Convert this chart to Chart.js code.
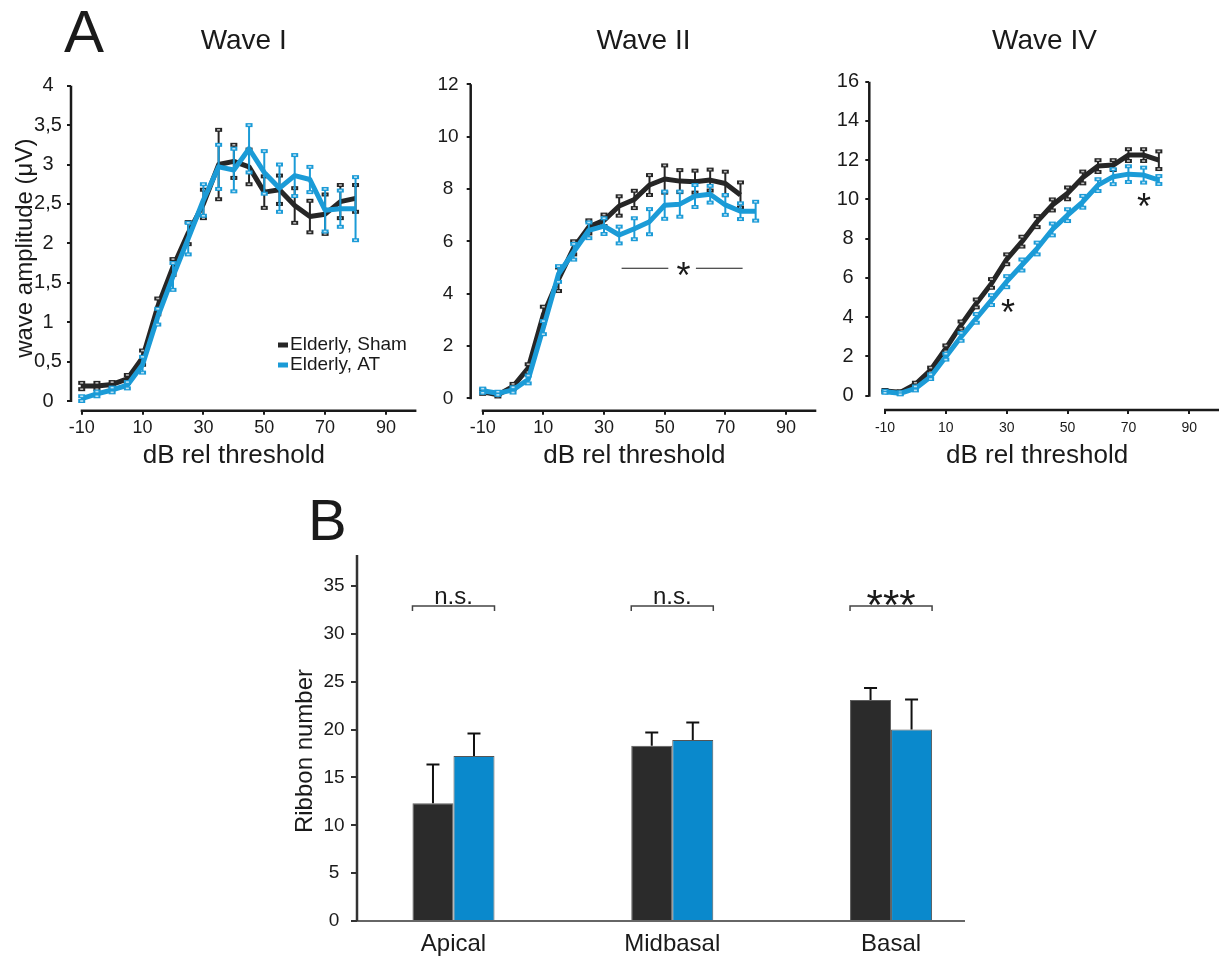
<!DOCTYPE html>
<html><head><meta charset="utf-8">
<script src="https://cdn.jsdelivr.net/npm/chart.js@4.4.1/dist/chart.umd.min.js"></script>
<style>
html,body{margin:0;padding:0;background:#fff;width:1219px;height:966px;overflow:hidden;font-family:'Liberation Sans',Arial,sans-serif;}
canvas{position:absolute;}
.lbl{position:absolute;color:#1a1a1a;line-height:1;}
</style></head><body>
<div class="lbl" style="left:64px;top:2px;font-size:60px;">A</div>
<div class="lbl" style="left:308px;top:491px;font-size:58px;">B</div>
<canvas id="wave1" width="420" height="480" style="left:0;top:0"></canvas>
<canvas id="wave2" width="400" height="480" style="left:420px;top:0"></canvas>
<canvas id="wave4" width="400" height="480" style="left:820px;top:0"></canvas>
<canvas id="ribbons" width="949" height="486" style="left:270px;top:480px"></canvas>
<script>
// ---------------- data ----------------
const dbLevels = [-10,-5,0,5,10,15,20,25,30,35,40,45,50,55,60,65,70,75,80];
const xTickLabels = [-10,10,30,50,70,90];
const seriesNames = ['Elderly, Sham','Elderly, AT'];

const waveITicks = [0,0.5,1,1.5,2,2.5,3,3.5,4];
const shamWaveI    = [0.19,0.19,0.21,0.28,0.55,1.20,1.70,2.13,2.50,3.00,3.04,2.97,2.65,2.68,2.48,2.34,2.37,2.53,2.57];
const shamWaveIErr = [0.04,0.04,0.03,0.05,0.09,0.10,0.10,0.14,0.18,0.44,0.21,0.22,0.20,0.18,0.22,0.20,0.25,0.21,0.17];
const atWaveI      = [0.03,0.09,0.14,0.20,0.46,1.07,1.58,2.06,2.55,2.97,2.93,3.20,2.90,2.70,2.86,2.81,2.42,2.44,2.44];
const atWaveIErr   = [0.03,0.03,0.03,0.04,0.10,0.10,0.17,0.20,0.20,0.28,0.27,0.30,0.27,0.30,0.26,0.16,0.27,0.23,0.40];

const waveIITicks = [0,2,4,6,8,10,12];
const shamWaveII    = [0.25,0.13,0.45,1.15,3.20,4.55,5.75,6.55,6.80,7.35,7.60,8.15,8.38,8.30,8.28,8.34,8.21,7.77,null];
const shamWaveIIErr = [0.08,0.06,0.10,0.15,0.30,0.45,0.25,0.25,0.22,0.37,0.33,0.38,0.52,0.42,0.42,0.40,0.45,0.48,null];
const atWaveII      = [0.29,0.19,0.32,0.72,2.70,4.75,5.60,6.42,6.58,6.24,6.48,6.75,7.38,7.42,7.73,7.80,7.39,7.15,7.15];
const atWaveIIErr   = [0.08,0.06,0.10,0.15,0.25,0.30,0.30,0.30,0.30,0.32,0.40,0.48,0.52,0.48,0.42,0.32,0.38,0.30,0.36];

const waveIVTicks = [0,2,4,6,8,10,12,14,16];
const shamWaveIV    = [0.24,0.17,0.58,1.31,2.41,3.60,4.70,5.72,6.95,7.85,8.87,9.72,10.31,11.12,11.70,11.75,12.26,12.26,12.00];
const shamWaveIVErr = [0.05,0.05,0.08,0.12,0.15,0.18,0.20,0.22,0.25,0.25,0.28,0.28,0.30,0.30,0.30,0.25,0.30,0.30,0.45];
const atWaveIV      = [0.20,0.12,0.37,0.97,1.99,3.00,3.94,4.87,5.81,6.66,7.50,8.47,9.20,9.88,10.73,11.16,11.29,11.24,10.99];
const atWaveIVErr   = [0.05,0.05,0.10,0.12,0.15,0.20,0.22,0.25,0.28,0.28,0.30,0.30,0.30,0.30,0.30,0.38,0.40,0.38,0.20];

const regions = ['Apical','Midbasal','Basal'];
const ribbonTicks = [0,5,10,15,20,25,30,35];
const shamRibbons    = [12.3,18.3,23.1];
const shamRibbonsErr = [4.05,1.40,1.25];
const atRibbons      = [17.25,18.9,20.0];
const atRibbonsErr   = [2.35,1.85,3.15];
const sigLabels = ['n.s.','n.s.','***'];

// ---------------- styling ----------------
const FONT = "'Liberation Sans', Arial, sans-serif";
Chart.defaults.font.family = FONT;
Chart.defaults.color = '#1a1a1a';
const INK = '#1a1a1a';
const SHAM_COL = '#262626', AT_COL = '#1b9bd7';
const SHAM_BAR = '#2b2b2b', AT_BAR = '#0a89cc';
const fmt = v => String(v).replace('.', ',');
const pts = arr => dbLevels.map((d, i) => ({x: d, y: arr[i]}));

function drawErrBars(chart, meta, ds) {
  if (!ds.errors) return;
  const ctx = chart.ctx, y = chart.scales.y;
  ctx.save();
  ctx.strokeStyle = ds.borderColor; ctx.lineWidth = 2;
  meta.data.forEach((pt, i) => {
    const v = ds.data[i].y, e = ds.errors[i];
    if (v == null || e == null) return;
    const yt = y.getPixelForValue(v + e), yb = y.getPixelForValue(v - e);
    ctx.beginPath(); ctx.moveTo(pt.x, yt); ctx.lineTo(pt.x, yb); ctx.stroke();
    [yt, yb].forEach(yy => {
      ctx.fillStyle = ds.borderColor; ctx.fillRect(pt.x - 3.5, yy - 2, 7, 4);
      ctx.fillStyle = 'rgba(255,255,255,0.7)'; ctx.fillRect(pt.x - 1.5, yy - 0.8, 3, 1.6);
    });
  });
  ctx.restore();
}

function drawStar(ctx, x, cy, size, bold) {
  ctx.save();
  ctx.font = (bold ? 'bold ' : '') + size + 'px ' + FONT;
  ctx.fillStyle = INK; ctx.textAlign = 'center'; ctx.textBaseline = 'alphabetic';
  ctx.fillText('*', x, cy + 0.575 * size);
  ctx.restore();
}

function waveChart(id, c) {
  const datasets = [
    {label: seriesNames[0], data: pts(c.sham), errors: c.shamErr, borderColor: SHAM_COL, order: 1},
    {label: seriesNames[1], data: pts(c.at), errors: c.atErr, borderColor: AT_COL, order: 0}
  ].map(d => Object.assign(d, {borderWidth: 5, pointRadius: 0, fill: false, tension: 0, borderJoinStyle: 'round', spanGaps: false}));
  const yTitle = c.yTitle ? {display: true, text: c.yTitle, font: {size: 24}, color: INK, padding: {top: c.yTitlePad, bottom: 0}} : {display: false};
  return new Chart(document.getElementById(id), {
    type: 'line',
    data: {datasets},
    options: {
      responsive: false, animation: false, devicePixelRatio: 1, events: [],
      layout: {padding: {left: 0, top: 0, right: c.padRight, bottom: 0}},
      plugins: {
        legend: {display: false}, tooltip: {enabled: false},
        title: {display: true, text: c.title, fullSize: false, color: INK,
                font: {size: 28, weight: 'normal'}, padding: {top: 24.9, bottom: c.titleBottom}}
      },
      scales: {
        x: {type: 'linear', min: c.xMin, max: 100,
            afterBuildTicks: s => { s.ticks = xTickLabels.map(v => ({value: v})); },
            afterFit: s => { s.height = c.xHeight; },
            grid: {display: true, drawOnChartArea: false, drawTicks: true, tickLength: 4, color: INK, lineWidth: 2},
            border: {display: false},
            ticks: {font: {size: c.xFont}, color: INK, padding: c.xPad, maxRotation: 0, autoSkip: false, callback: v => fmt(v)}},
        y: {min: c.yMin, max: c.yMax,
            afterBuildTicks: s => { s.ticks = c.yTicks.map(v => ({value: v})); },
            afterFit: s => { s.width = c.yWidth; },
            grid: {display: true, drawOnChartArea: false, drawTicks: true, tickLength: 4, color: INK, lineWidth: 2},
            border: {display: false},
            title: yTitle,
            ticks: {font: {size: c.yFont}, color: INK, padding: c.yPad, crossAlign: 'center', autoSkip: false, callback: v => fmt(v)}}
      }
    },
    plugins: [{
      id: 'waveExtras',
      afterDatasetDraw(chart, args) { drawErrBars(chart, args.meta, chart.data.datasets[args.index]); },
      afterDraw(chart) {
        const {ctx, scales: {x, y}} = chart;
        ctx.save();
        ctx.strokeStyle = INK; ctx.lineWidth = 2.5;
        ctx.beginPath(); ctx.moveTo(x.left, y.getPixelForValue(0) + 1); ctx.lineTo(x.left, y.getPixelForValue(c.yMax)); ctx.stroke();
        ctx.beginPath(); ctx.moveTo(x.getPixelForValue(-10) - 1, y.bottom); ctx.lineTo(x.getPixelForValue(100), y.bottom); ctx.stroke();
        ctx.font = '26px ' + FONT; ctx.fillStyle = INK; ctx.textAlign = 'center'; ctx.textBaseline = 'alphabetic';
        ctx.fillText('dB rel threshold', x.getPixelForValue(40), 463);
        ctx.restore();
        if (c.extra) c.extra(chart);
      }
    }]
  });
}

waveChart('wave1', {
  title: 'Wave I', sham: shamWaveI, shamErr: shamWaveIErr, at: atWaveI, atErr: atWaveIErr,
  yTicks: waveITicks, yMin: -0.123, yMax: 4, xMin: -13.52, yWidth: 71, xHeight: 69.3, padRight: 3.6,
  titleBottom: 27.2, yFont: 20, yPad: 5.1, xFont: 18, xPad: 2.5, yTitle: 'wave amplitude (\u03bcV)', yTitlePad: 10.6,
  extra(chart) {
    const ctx = chart.ctx;
    ctx.save();
    ctx.font = '19px ' + FONT; ctx.textBaseline = 'middle'; ctx.textAlign = 'left';
    chart.data.datasets.forEach((ds, i) => {
      const yy = 345 + i * 20;
      ctx.fillStyle = ds.borderColor; ctx.fillRect(278, yy - 2.5, 10, 5);
      ctx.fillStyle = INK; ctx.fillText(ds.label, 290, yy);
    });
    ctx.restore();
  }
});

waveChart('wave2', {
  title: 'Wave II', sham: shamWaveII, shamErr: shamWaveIIErr, at: atWaveII, atErr: atWaveIIErr,
  yTicks: waveIITicks, yMin: -0.474, yMax: 12, xMin: -13.96, yWidth: 50.7, xHeight: 69.3, padRight: 3.7,
  titleBottom: 25.8, yFont: 19, yPad: 8.1, xFont: 18, xPad: 2.5,
  extra(chart) {
    const {ctx, scales: {x, y}} = chart;
    const yy = y.getPixelForValue(4.97);
    ctx.save(); ctx.strokeStyle = INK; ctx.lineWidth = 1.2;
    ctx.beginPath(); ctx.moveTo(x.getPixelForValue(35.8), yy); ctx.lineTo(x.getPixelForValue(51.2), yy);
    ctx.moveTo(x.getPixelForValue(60.3), yy); ctx.lineTo(x.getPixelForValue(75.7), yy); ctx.stroke();
    ctx.restore();
    drawStar(ctx, x.getPixelForValue(56.2), y.getPixelForValue(5.0), 36, false);
  }
});

waveChart('wave4', {
  title: 'Wave IV', sham: shamWaveIV, shamErr: shamWaveIVErr, at: atWaveIV, atErr: atWaveIVErr,
  yTicks: waveIVTicks, yMin: -0.729, yMax: 16, xMin: -15.16, yWidth: 49.3, xHeight: 70, padRight: 0.3,
  titleBottom: 23.2, yFont: 20, yPad: 6.2, xFont: 14, xPad: 5.6,
  extra(chart) {
    const {ctx, scales: {x, y}} = chart;
    drawStar(ctx, x.getPixelForValue(30.4), y.getPixelForValue(4.67), 36, false);
    drawStar(ctx, x.getPixelForValue(75.1), y.getPixelForValue(10.07), 36, false);
  }
});

// ---------------- panel B ----------------
new Chart(document.getElementById('ribbons'), {
  type: 'bar',
  data: {datasets: [
    {label: seriesNames[0], data: regions.map((r, i) => ({x: i, y: shamRibbons[i]})), errors: shamRibbonsErr,
     backgroundColor: SHAM_BAR, borderColor: '#5e5e5e', borderWidth: 1},
    {label: seriesNames[1], data: regions.map((r, i) => ({x: i, y: atRibbons[i]})), errors: atRibbonsErr,
     backgroundColor: AT_BAR, borderColor: '#555', borderWidth: 1}
  ]},
  options: {
    responsive: false, animation: false, devicePixelRatio: 1, events: [],
    layout: {padding: {left: 0, top: 75, right: 254, bottom: 0}},
    datasets: {bar: {categoryPercentage: 0.375, barPercentage: 1}},
    plugins: {legend: {display: false}, tooltip: {enabled: false}},
    scales: {
      x: {type: 'linear', min: -0.441, max: 2.338, offset: false,
          afterBuildTicks: s => { s.ticks = regions.map((r, i) => ({value: i})); },
          afterFit: s => { s.height = 45; },
          grid: {display: false, drawTicks: false}, border: {display: false},
          ticks: {font: {size: 24}, color: INK, padding: 9, maxRotation: 0, autoSkip: false, callback: v => regions[v]}},
      y: {min: 0, max: 38.24,
          afterBuildTicks: s => { s.ticks = ribbonTicks.map(v => ({value: v})); },
          afterFit: s => { s.width = 87; },
          grid: {display: true, drawOnChartArea: false, drawTicks: true, tickLength: 6, color: '#333', lineWidth: 2},
          border: {display: false},
          ticks: {font: {size: 19}, color: INK, padding: 6.4, crossAlign: 'center', autoSkip: false}}
    }
  },
  plugins: [{
    id: 'barExtras',
    afterDatasetsDraw(chart) {
      const {ctx, scales: {x, y}} = chart;
      ctx.save();
      ctx.strokeStyle = '#111'; ctx.lineWidth = 2;
      chart.data.datasets.forEach((ds, di) => {
        chart.getDatasetMeta(di).data.forEach((bar, i) => {
          const top = y.getPixelForValue(ds.data[i].y + ds.errors[i]);
          ctx.beginPath(); ctx.moveTo(bar.x, bar.y); ctx.lineTo(bar.x, top);
          ctx.moveTo(bar.x - 6.5, top); ctx.lineTo(bar.x + 6.5, top); ctx.stroke();
        });
      });
      // axes
      ctx.strokeStyle = '#666'; ctx.lineWidth = 2;
      ctx.beginPath(); ctx.moveTo(x.left, y.bottom); ctx.lineTo(x.right, y.bottom); ctx.stroke();
      ctx.strokeStyle = '#333'; ctx.lineWidth = 2.5;
      ctx.beginPath(); ctx.moveTo(x.left, y.bottom); ctx.lineTo(x.left, y.top); ctx.stroke();
      // significance brackets
      const m0 = chart.getDatasetMeta(0).data, m1 = chart.getDatasetMeta(1).data;
      const yb = y.getPixelForValue(32.9);
      regions.forEach((r, i) => {
        const l = m0[i].x - m0[i].width / 2, rr = m1[i].x + m1[i].width / 2;
        ctx.strokeStyle = '#444'; ctx.lineWidth = 1.5;
        ctx.beginPath(); ctx.moveTo(l, yb + 5); ctx.lineTo(l, yb); ctx.lineTo(rr, yb); ctx.lineTo(rr, yb + 5); ctx.stroke();
        const cx = (l + rr) / 2;
        ctx.fillStyle = INK; ctx.textAlign = 'center'; ctx.textBaseline = 'alphabetic';
        if (sigLabels[i] === '***') {
          ctx.font = '42px ' + FONT;
          ctx.fillText(sigLabels[i], cx, yb - 11 + 0.575 * 42);
        } else {
          ctx.font = '24px ' + FONT;
          ctx.fillText(sigLabels[i], cx, yb - 2);
        }
      });
      // y title
      ctx.save();
      ctx.translate(305 - 270, 751 - 480); ctx.rotate(-Math.PI / 2);
      ctx.font = '24px ' + FONT; ctx.fillStyle = INK; ctx.textAlign = 'center'; ctx.textBaseline = 'middle';
      ctx.fillText('Ribbon number', 0, 0);
      ctx.restore();
      ctx.restore();
    }
  }]
});
</script>
</body></html>
